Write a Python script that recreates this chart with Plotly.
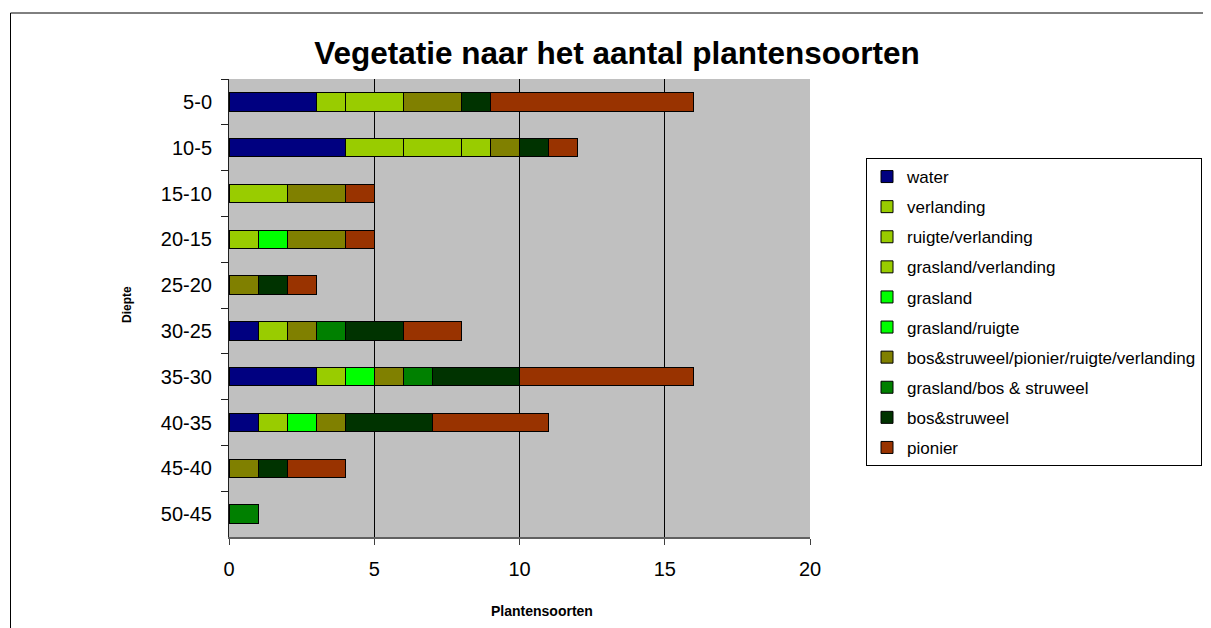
import plotly.graph_objects as go

categories = ["5-0", "10-5", "15-10", "20-15", "25-20", "30-25", "35-30", "40-35", "45-40", "50-45"]

water = [3, 4, 0, 0, 0, 1, 3, 1, 0, 0]
verlanding = [1, 2, 2, 1, 0, 1, 1, 1, 0, 0]
ruigte_verlanding = [2, 2, 0, 0, 0, 0, 0, 0, 0, 0]
grasland_verlanding = [0, 1, 0, 0, 0, 0, 0, 0, 0, 0]
grasland = [0, 0, 0, 1, 0, 0, 1, 1, 0, 0]
grasland_ruigte = [0, 0, 0, 0, 0, 0, 0, 0, 0, 0]
bos_pionier_ruigte_verlanding = [2, 1, 2, 2, 1, 1, 1, 1, 1, 0]
grasland_bos_struweel = [0, 0, 0, 0, 0, 1, 1, 0, 0, 1]
bos_struweel = [1, 1, 0, 0, 1, 2, 3, 3, 1, 0]
pionier = [7, 1, 1, 1, 1, 2, 6, 4, 2, 0]

series_names = ["water", "verlanding", "ruigte/verlanding", "grasland/verlanding", "grasland",
                "grasland/ruigte", "bos&struweel/pionier/ruigte/verlanding",
                "grasland/bos & struweel", "bos&struweel", "pionier"]
series_values = [water, verlanding, ruigte_verlanding, grasland_verlanding, grasland,
                 grasland_ruigte, bos_pionier_ruigte_verlanding, grasland_bos_struweel,
                 bos_struweel, pionier]
series_colors = ["#000080", "#99CC00", "#99CC00", "#99CC00", "#00FF00", "#00FF00",
                 "#808000", "#008000", "#003300", "#993300"]

x_ticks = [0, 5, 10, 15, 20]

FONT = "Arial, Liberation Sans, sans-serif"

fig = go.Figure()
for name, vals, col in zip(series_names, series_values, series_colors):
    fig.add_trace(go.Bar(
        y=categories, x=vals, name=name, orientation="h",
        marker=dict(color=col, line=dict(color="#000000", width=1)),
        legendgroup=name,
    ))

W, H = 1211, 628
OFF = 8  # page body margin
PX0, PY0 = 229, 79   # plot area top-left in screenshot pixels
pw, ph = 581, 458
L, T = PX0 - OFF, PY0 - OFF
R = W - L - pw
B = H - T - ph


def px(xs):
    return (xs - PX0) / pw


def py(ys):
    return (PY0 + ph - ys) / ph


fig.update_layout(
    width=W, height=H,
    margin=dict(l=L, r=R, t=T, b=B, autoexpand=False),
    barmode="stack",
    bargap=0.6,
    paper_bgcolor="white",
    plot_bgcolor="#C0C0C0",
    font=dict(family=FONT, color="black"),
    title=dict(text="<b>Vegetatie naar het aantal plantensoorten</b>",
               x=(617 - OFF) / W, xanchor="center", xref="container",
               y=1 - (53 - OFF) / H, yanchor="middle", yref="container",
               font=dict(size=31.5, family=FONT, color="black")),
    legend=dict(
        x=px(866), xanchor="left", y=py(158), yanchor="top",
        bgcolor="white", bordercolor="black", borderwidth=1,
        font=dict(size=17, family=FONT, color="black"),
        traceorder="grouped", tracegroupgap=5, itemwidth=30,
    ),
    xaxis=dict(
        range=[0, 20], tickvals=x_ticks, ticktext=[str(v) for v in x_ticks],
        showgrid=True, gridcolor="#000000", gridwidth=1,
        zeroline=False, showline=True, linecolor="#606060", linewidth=2,
        ticks="outside", ticklen=6, tickcolor="#404040", ticklabelstandoff=7,
        tickfont=dict(size=20, family=FONT, color="black"),
        automargin=False, fixedrange=True,
    ),
    yaxis=dict(
        type="category",
        categoryorder="array", categoryarray=categories, autorange="reversed",
        showgrid=False, zeroline=False, showline=True, linecolor="#202020", linewidth=1,
        ticks="outside", ticklen=7, tickcolor="#202020", tickson="boundaries",
        ticklabelstandoff=12,
        tickfont=dict(size=20, family=FONT, color="black"),
        automargin=False, fixedrange=True,
    ),
    showlegend=True,
    annotations=[
        dict(text="<b>Diepte</b>", xref="paper", yref="paper",
             x=px(127), y=py(305), textangle=-90,
             showarrow=False, xanchor="center", yanchor="middle",
             font=dict(size=12, family=FONT, color="black")),
        dict(text="<b>Plantensoorten</b>", xref="paper", yref="paper",
             x=px(542), y=py(611),
             showarrow=False, xanchor="center", yanchor="middle",
             font=dict(size=14, family=FONT, color="black")),
    ],
    shapes=[
        dict(type="rect", xref="paper", yref="paper",
             x0=px(10.5), x1=2.0, y0=-1.0, y1=py(13),
             line=dict(color="black", width=1), fillcolor="rgba(0,0,0,0)", layer="below"),
    ],
)

fig.write_html("out.html")
